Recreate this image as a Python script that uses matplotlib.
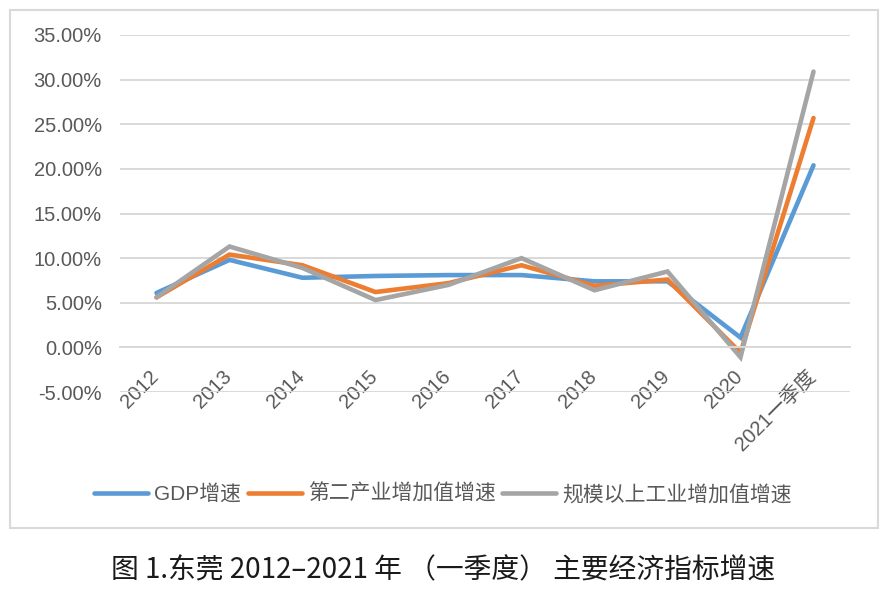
"""Dongguan main economic indicator growth rates, 2012-2021 Q1."""

import matplotlib.pyplot as plt
from matplotlib.patches import Rectangle
from matplotlib.ticker import FuncFormatter
from matplotlib.transforms import ScaledTranslation

plt.rcParams["font.family"] = ["Liberation Sans", "Noto Sans CJK SC", "DejaVu Sans"]

# data (percent)
years = ["2012", "2013", "2014", "2015", "2016", "2017", "2018", "2019", "2020", "2021一季度"]
gdp = [6.1, 9.8, 7.8, 8.0, 8.1, 8.1, 7.4, 7.4, 1.1, 20.4]
secondary = [5.6, 10.4, 9.2, 6.2, 7.2, 9.2, 6.9, 7.6, -0.6, 25.7]
industry = [5.6, 11.3, 8.9, 5.3, 7.0, 10.0, 6.4, 8.5, -1.1, 30.9]
series_names = ["GDP增速", "第二产业增加值增速", "规模以上工业增加值增速"]
caption = "图 1.东莞 2012–2021 年 （一季度） 主要经济指标增速"

colors = ["#5B9BD5", "#ED7D31", "#A5A5A5"]
text_color = "#595959"

fig = plt.figure(figsize=(8.86, 5.94), dpi=100)

# chart frame
fig.patches.append(Rectangle((10 / 886, 1 - 528 / 594), 868 / 886, 518 / 594,
                             transform=fig.transFigure, fill=False,
                             edgecolor="#D9D9D9", linewidth=1.5))

ax = fig.add_axes([120 / 886, 1 - 392 / 594, 730 / 886, 357 / 594])
x = list(range(len(years)))
for vals, name, c in zip([gdp, secondary, industry], series_names, colors):
    ax.plot(x, vals, color=c, linewidth=3.3, label=name, solid_capstyle="round",
            solid_joinstyle="miter")

ax.set_xlim(-0.5, len(years) - 0.5)
ax.set_ylim(-5, 35)
ax.set_yticks(range(-5, 36, 5))
ax.yaxis.set_major_formatter(FuncFormatter(lambda v, p: f"{v:.2f}%"))
ax.grid(axis="y", color="#D9D9D9", linewidth=1.4)
ax.set_axisbelow(True)
for s in ["left", "right", "top"]:
    ax.spines[s].set_visible(False)
ax.spines["bottom"].set_position(("data", 0))
ax.spines["bottom"].set_color("#D9D9D9")
ax.spines["bottom"].set_linewidth(1.4)
ax.set_xticks(x)
ax.set_xticklabels(years, rotation=45, ha="right", rotation_mode="anchor")
ax.tick_params(axis="both", length=0, colors=text_color, labelsize=14.5)
ax.tick_params(axis="y", pad=13)
ax.tick_params(axis="x", pad=14)

# nudge the slanted labels a little to the left
shift = ScaledTranslation(-0.08, 0, fig.dpi_scale_trans)
for lbl in ax.get_xticklabels():
    lbl.set_transform(lbl.get_transform() + shift)

fig.legend(loc="center", bbox_to_anchor=(443 / 886, 1 - 494 / 594), ncol=3,
           frameon=False, fontsize=15, handlelength=2.6, handletextpad=0.3,
           columnspacing=0.3, labelcolor=text_color)

fig.text(0.5, 1 - 570 / 594, caption, ha="center", va="center", fontsize=20,
         color="#1a1a1a", family=["Noto Sans CJK SC", "DejaVu Sans"])

fig.savefig("out.png", dpi=100)
